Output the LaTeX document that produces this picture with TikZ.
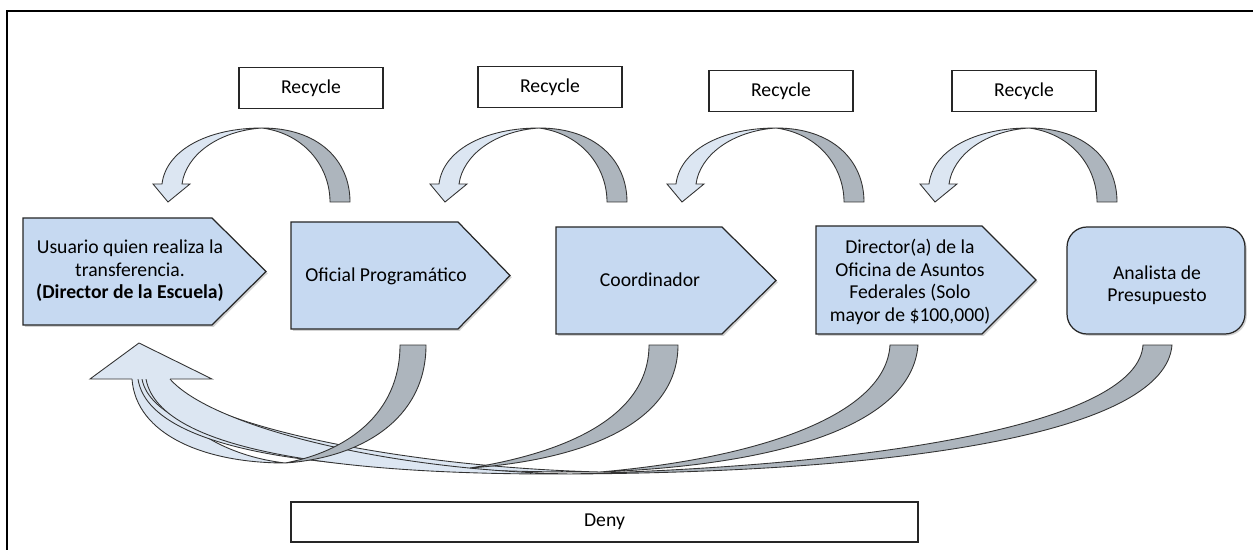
\documentclass[tikz,border=0pt]{standalone}
\usepackage{fontspec}
\setmainfont{Carlito}
\usepackage{xcolor}
\usetikzlibrary{positioning,shadows}
\definecolor{boxblue}{HTML}{C6D9F1}
\definecolor{lightarc}{HTML}{DCE6F2}
\definecolor{grayarc}{HTML}{ADB5BD}

\begin{document}
\begin{tikzpicture}[x=0.02cm,y=-0.02cm,
  box/.style={fill=boxblue,draw=black!85,line width=0.7pt,drop shadow={shadow xshift=1pt,shadow yshift=-1pt,opacity=0.35}},
  txt/.style={align=center,font=\fontsize{11.2}{12.8}\selectfont},
  tag/.style={txt,draw=black!85,line width=0.7pt,fill=white,minimum width=2.88cm,minimum height=0.82cm,inner sep=0pt},
  light/.style={fill=lightarc,draw=black!80,line width=0.5pt},
  dark/.style={fill=grayarc,draw=black!80,line width=0.5pt}]
\useasboundingbox (0,0) rectangle (1253,550);
\draw [line width=0.6pt] (7,550) -- (7,11) -- (1253,11);

\foreach \t/\c/\y [count=\i] in {168/311/88, 445/550/87, 682/781/91, 935/1024/91}{
  \node [tag] (recycle\i) at (\c,\y) {Recycle};
  \draw [light] (\t+14,184) -- (\t+22,184) -- (\t,202) -- (\t-15,184) -- (\t-6,184)
    .. controls (\t-2,150) and (\t+40,128) .. (\t+94,128)
    .. controls (\t+50,131) and (\t+18,155) .. (\t+14,184) -- cycle;
  \draw [dark] (\t+94,128) .. controls (\t+150,128) and (\t+182,160) .. (\t+182,202)
    -- (\t+162,202) .. controls (\t+162,168) and (\t+138,134) .. (\t+94,128) -- cycle;
}

\draw [box] (23,218) -- (212,218) -- (266,271.5) -- (212,325) -- (23,325) -- cycle;
\draw [box] (291,222) -- (458,222) -- (510,275.5) -- (458,329) -- (291,329) -- cycle;
\draw [box] (556,227) -- (722,227) -- (776,280.5) -- (722,334) -- (556,334) -- cycle;
\draw [box] (816,226) -- (982,226) -- (1036,280) -- (982,334) -- (816,334) -- cycle;
\draw [box, rounded corners=0.4cm] (1067,227) rectangle (1245,334);

\node [txt] (usuario) at (130,271) {Usuario quien realiza la\\transferencia.\\\textbf{(Director de la Escuela)}};
\node [txt] (oficial) at (386,276) {Oficial Programático};
\node [txt] (coordinador) at (650,280) {Coordinador};
\node [txt] (director) at (910,282) {Director(a) de la\\Oficina de Asuntos\\Federales (Solo\\mayor de \$100,000)};
\node [txt] (analista) at (1157,285) {Analista de\\Presupuesto};

\draw [light] (132,379) .. controls (136,435) and (205,463) .. (285,463) .. controls (225,456) and (172,425) .. (158,379);
\draw [light] (138,379) .. controls (148,445) and (300,469) .. (470,468) .. controls (320,461) and (190,425) .. (163,379);
\draw [light] (142,379) .. controls (155,450) and (380,473) .. (600,472) .. controls (400,467) and (200,425) .. (166,379);
\draw [light] (146,379) .. controls (160,455) and (360,475) .. (570,474) .. controls (380,470) and (210,425) .. (170,379);
\draw [light] (132,379) -- (90,379) -- (139,343) -- (212,379) -- (170,379);

\draw [dark] (400,345) -- (426,345) .. controls (426,420) and (360,458) .. (285,463) .. controls (345,452) and (400,415) .. (400,345) -- cycle;
\draw [dark] (649,345) -- (678,345) .. controls (678,425) and (580,460) .. (470,468) .. controls (570,452) and (649,415) .. (649,345) -- cycle;
\draw [dark] (890,345) -- (918,345) .. controls (912,425) and (780,465) .. (600,472) .. controls (760,458) and (886,415) .. (890,345) -- cycle;
\draw [dark] (1143,345) -- (1172,345) .. controls (1165,430) and (920,472) .. (570,474) .. controls (900,465) and (1138,420) .. (1143,345) -- cycle;

\node [tag, minimum width=12.54cm, minimum height=0.8cm] (deny) at (604.5,522) {Deny};
\end{tikzpicture}
\end{document}
